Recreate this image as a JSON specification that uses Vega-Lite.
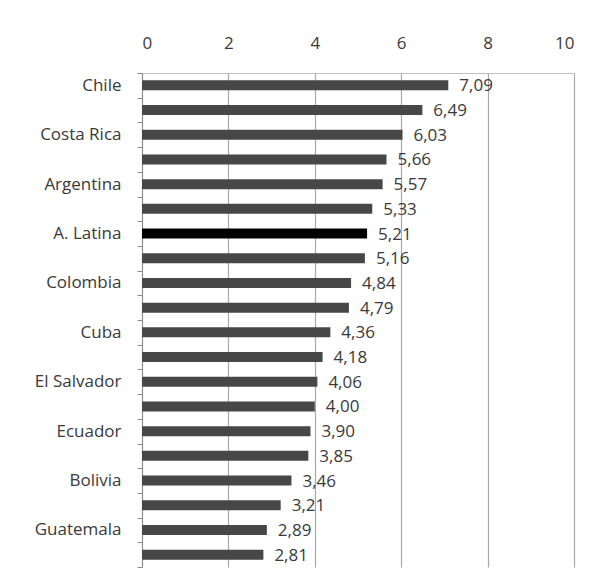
{
  "$schema": "https://vega.github.io/schema/vega-lite/v6.json",
  "autosize": "none",
  "width": 432,
  "height": 494,
  "padding": {"left": 142, "top": 73, "right": 18, "bottom": 6},
  "background": "white",
  "config": {
    "view": {"stroke": null},
    "font": "Open Sans",
    "locale": {"number": {"decimal": ",", "thousands": ".", "grouping": [3], "currency": ["", " €"]}}
  },
  "data": {"values": [
    {"pais": "Chile", "valor": 7.09, "grupo": "pais"},
    {"pais": "Uruguay", "valor": 6.49, "grupo": "pais"},
    {"pais": "Costa Rica", "valor": 6.03, "grupo": "pais"},
    {"pais": "Brasil", "valor": 5.66, "grupo": "pais"},
    {"pais": "Argentina", "valor": 5.57, "grupo": "pais"},
    {"pais": "México", "valor": 5.33, "grupo": "pais"},
    {"pais": "A. Latina", "valor": 5.21, "grupo": "total"},
    {"pais": "Panamá", "valor": 5.16, "grupo": "pais"},
    {"pais": "Colombia", "valor": 4.84, "grupo": "pais"},
    {"pais": "Venezuela", "valor": 4.79, "grupo": "pais"},
    {"pais": "Cuba", "valor": 4.36, "grupo": "pais"},
    {"pais": "Perú", "valor": 4.18, "grupo": "pais"},
    {"pais": "El Salvador", "valor": 4.06, "grupo": "pais"},
    {"pais": "Rep. Dominicana", "valor": 4.0, "grupo": "pais"},
    {"pais": "Ecuador", "valor": 3.9, "grupo": "pais"},
    {"pais": "Paraguay", "valor": 3.85, "grupo": "pais"},
    {"pais": "Bolivia", "valor": 3.46, "grupo": "pais"},
    {"pais": "Honduras", "valor": 3.21, "grupo": "pais"},
    {"pais": "Guatemala", "valor": 2.89, "grupo": "pais"},
    {"pais": "Nicaragua", "valor": 2.81, "grupo": "pais"}
  ]},
  "encoding": {
    "y": {
      "field": "pais", "type": "nominal", "sort": null,
      "scale": {"paddingInner": 0, "paddingOuter": 0},
      "axis": {
        "title": null,
        "labelExpr": "indexof(['Chile','Costa Rica','Argentina','A. Latina','Colombia','Cuba','El Salvador','Ecuador','Bolivia','Guatemala'], datum.value) >= 0 ? datum.value : ''",
        "labelFontSize": 17, "labelColor": "#3a3a3a", "labelPadding": 16,
        "tickBand": "extent", "tickSize": 5, "tickColor": "#8a8a8a",
        "domainColor": "#8a8a8a", "grid": false
      }
    },
    "x": {
      "field": "valor", "type": "quantitative",
      "scale": {"domain": [0, 10], "nice": false},
      "axis": {
        "orient": "top", "title": null, "values": [0, 2, 4, 6, 8, 10],
        "format": "d", "tickSize": 0, "labelPadding": 21,
        "labelFontSize": 17, "labelColor": "#3a3a3a",
        "grid": true, "gridColor": "#a8a8a8", "gridWidth": 1.2,
        "domainColor": "#c0c0c0"
      }
    }
  },
  "layer": [
    {
      "mark": {"type": "bar", "height": 10},
      "encoding": {
        "color": {
          "field": "grupo", "type": "nominal",
          "scale": {"domain": ["pais", "total"], "range": ["#474747", "#000000"]},
          "legend": null
        }
      }
    },
    {
      "mark": {"type": "text", "align": "left", "baseline": "middle", "dx": 11, "dy": 1, "fontSize": 17, "color": "#3a3a3a"},
      "encoding": {"text": {"field": "valor", "type": "quantitative", "format": ".2f"}}
    }
  ]
}
